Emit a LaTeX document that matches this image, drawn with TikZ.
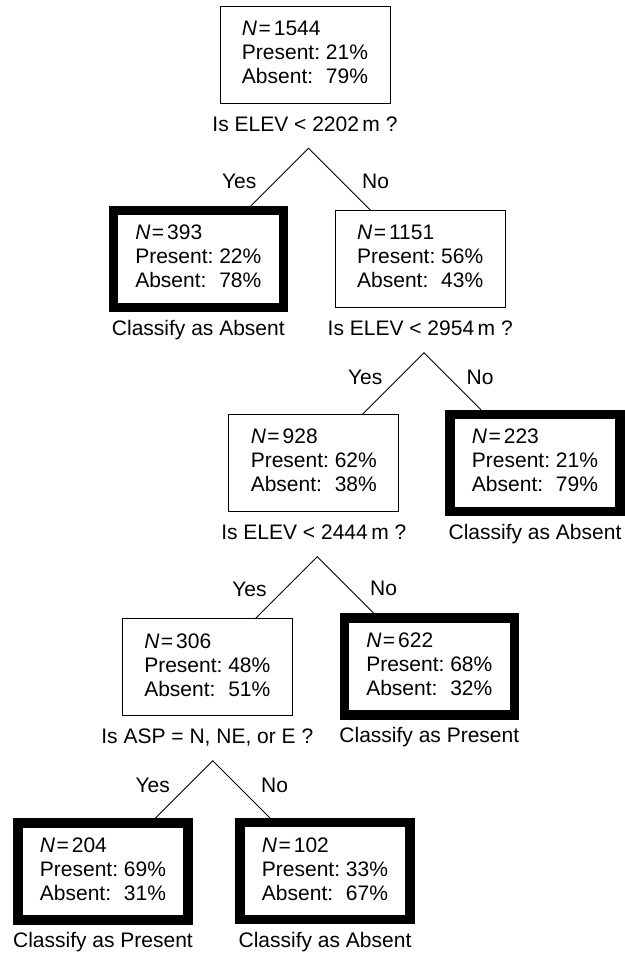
\documentclass[tikz,border=0pt]{standalone}
\usepackage{fontspec}
\setmainfont{Liberation Sans}
\usetikzlibrary{calc}
\newcommand{\nval}[1]{{\itshape N}\kern1.5pt=\kern3pt#1}
\newcommand{\stats}[3]{\begin{tabular}{@{}l@{\ }l@{}}\multicolumn{2}{@{}l@{}}{\nval{#1}}\\Present: & #2\%\\Absent: & #3\%\end{tabular}}
\tikzset{
  box/.style={draw, line width=0.9pt, minimum width=170pt, minimum height=97pt, inner sep=0pt,
    font=\fontsize{21}{24}\selectfont},
  leaf/.style={box, line width=9.5pt},
  lbl/.style={inner sep=0pt, font=\fontsize{21}{24}\selectfont},
  conn/.style={line width=0.9pt},
}
\begin{document}
\begin{tikzpicture}[x=1pt,y=-1pt]
\useasboundingbox (0,0) rectangle (624,955);
% boxes
\node[box]  (b1) at (305,55)      {\stats{1544}{21}{79}};
\node[leaf] (b2) at (198.3,259)   {\stats{393}{22}{78}};
\node[box]  (b3) at (420.2,259)   {\stats{1151}{56}{43}};
\node[box]  (b4) at (313.8,463)   {\stats{928}{62}{38}};
\node[leaf] (b5) at (535,463)     {\stats{223}{21}{79}};
\node[box]  (b6) at (207.3,667.3) {\stats{306}{48}{51}};
\node[leaf] (b7) at (429.3,666.3) {\stats{622}{68}{32}};
\node[leaf] (b8) at (103,871.3)   {\stats{204}{69}{31}};
\node[leaf] (b9) at (325,871.2)   {\stats{102}{33}{67}};
% labels under boxes
\node[lbl, anchor=base] (q1) at ($(b1.center)+(0,76.5)$) {Is ELEV < 2202\,m ?};
\node[lbl, anchor=base] (c2) at ($(b2.center)+(0,76.5)$) {Classify as Absent};
\node[lbl, anchor=base] (q3) at ($(b3.center)+(0,76.5)$) {Is ELEV < 2954\,m ?};
\node[lbl, anchor=base] (q4) at ($(b4.center)+(0,76.5)$) {Is ELEV < 2444\,m ?};
\node[lbl, anchor=base] (c5) at ($(b5.center)+(0,76.5)$) {Classify as Absent};
\node[lbl, anchor=base] (q6) at ($(b6.center)+(0,76.5)$) {Is ASP = N, NE, or E ?};
\node[lbl, anchor=base] (c7) at ($(b7.center)+(0,76.5)$) {Classify as Present};
\node[lbl, anchor=base] (c8) at ($(b8.center)+(0,76.5)$) {Classify as Present};
\node[lbl, anchor=base] (c9) at ($(b9.center)+(0,76.5)$) {Classify as Absent};
% split apexes
\coordinate (a1) at ($(b1.center)+(3.5,93.2)$);
\coordinate (a3) at ($(b3.center)+(3.8,93.7)$);
\coordinate (a4) at ($(b4.center)+(3.5,93.7)$);
\coordinate (a6) at ($(b6.center)+(5.4,93.4)$);
% connectors
\draw[conn] let \p1=(a1), \p2=(b2.north), \p3=(b3.north) in
  ({\x1-\y1+\y2},\y2) -- (a1) -- ({\x1+\y1-\y3},\y3);
\draw[conn] let \p1=(a3), \p2=(b4.north), \p3=(b5.north) in
  ({\x1-\y1+\y2},\y2) -- (a3) -- ({\x1+\y1-\y3},\y3);
\draw[conn] let \p1=(a4), \p2=(b6.north), \p3=(b7.north) in
  ({\x1-\y1+\y2},\y2) -- (a4) -- ({\x1+\y1-\y3},\y3);
\draw[conn] let \p1=(a6), \p2=(b8.north), \p3=(b9.north) in
  ({\x1-\y1+\y2},\y2) -- (a6) -- ({\x1+\y1-\y3},\y3);
% yes / no
\node[lbl, anchor=base east] (y1) at ($(a1)+(-52,40.5)$) {Yes};
\node[lbl, anchor=base west] (n1) at ($(a1)+(53.5,40.5)$) {No};
\node[lbl, anchor=base east] (y3) at ($(a3)+(-41.5,31.5)$) {Yes};
\node[lbl, anchor=base west] (n3) at ($(a3)+(42.5,31.5)$) {No};
\node[lbl, anchor=base east] (y4) at ($(a4)+(-50.5,40)$) {Yes};
\node[lbl, anchor=base west] (n4) at ($(a4)+(52.7,38.5)$) {No};
\node[lbl, anchor=base east] (y6) at ($(a6)+(-42.7,32)$) {Yes};
\node[lbl, anchor=base west] (n6) at ($(a6)+(48.3,32)$) {No};
\end{tikzpicture}
\end{document}
